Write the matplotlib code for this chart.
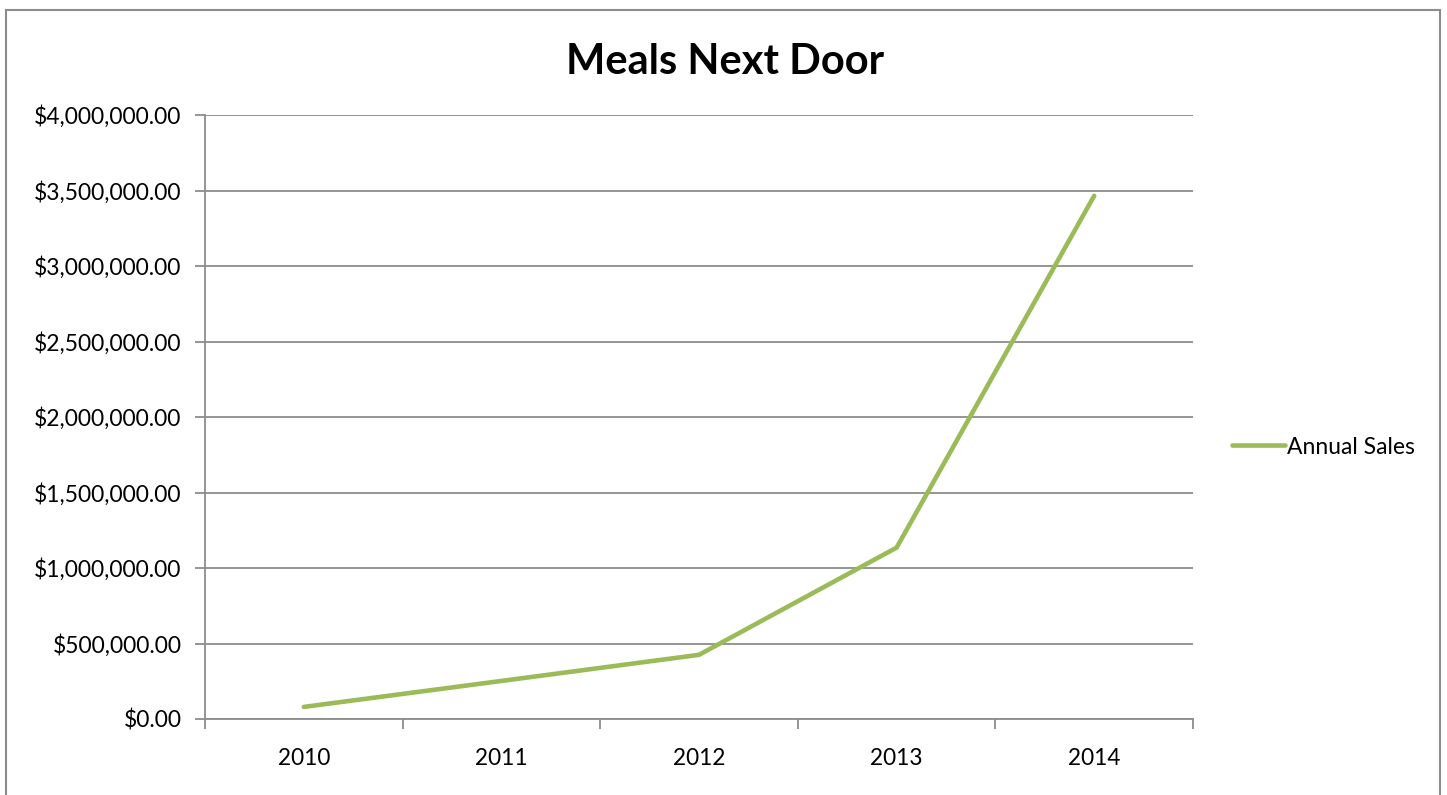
import matplotlib.pyplot as plt
from matplotlib.patches import Rectangle
from matplotlib.ticker import FuncFormatter, FixedLocator
import numpy as np

years = ['2010', '2011', '2012', '2013', '2014']
annual_sales = [80000, 252000, 425000, 1135000, 3465000]

plt.rcParams['font.family'] = ['Lato', 'DejaVu Sans']

fig = plt.figure(figsize=(14.47, 7.95), dpi=100)
ax = fig.add_axes([205 / 1447, 1 - 719 / 795, (1193 - 205) / 1447, (719 - 115) / 795])

# outer chart frame
fig.patches.append(Rectangle((6 / 1447, -0.05), (1440 - 6) / 1447, 1 - 10 / 795 + 0.05,
                             transform=fig.transFigure, fill=False,
                             edgecolor='#8c8c8c', linewidth=1.5))

x = np.arange(len(years))
ax.plot(x, annual_sales, color='#9BBB59', linewidth=3.3, solid_capstyle='round',
        solid_joinstyle='miter', label='Annual Sales', zorder=3)

ax.set_xlim(-0.5, len(years) - 0.5)
ax.set_ylim(0, 4000000)
ax.set_yticks(np.arange(0, 4000001, 500000))
ax.yaxis.set_major_formatter(FuncFormatter(lambda v, p: '${:,.2f}'.format(v)))
ax.grid(axis='y', color='#8c8c8c', linewidth=1.3)
ax.set_axisbelow(True)

# category ticks between labels, labels at centers
ax.xaxis.set_major_locator(FixedLocator(np.arange(-0.5, len(years), 1.0)))
ax.xaxis.set_major_formatter(FuncFormatter(lambda v, p: ''))
ax.xaxis.set_minor_locator(FixedLocator(x))
ax.set_xticklabels(years, minor=True)
ax.tick_params(axis='x', which='major', direction='out', length=7, width=1.3, color='#8c8c8c')
ax.tick_params(axis='x', which='minor', length=0, pad=21, labelsize=16.3)
ax.tick_params(axis='y', direction='out', length=7, width=1.3, color='#8c8c8c', labelsize=16.5, pad=10)

for s in ['top', 'right']:
    ax.spines[s].set_visible(False)
for s in ['left', 'bottom']:
    ax.spines[s].set_color('#8c8c8c')
    ax.spines[s].set_linewidth(1.3)

fig.text(725 / 1447, 1 - 62 / 795, 'Meals Next Door', ha='center', va='center',
         fontsize=30, fontweight='bold')

ax.legend(loc='center left', bbox_to_anchor=(1.019, 1 - (447 - 115) / 604), frameon=False,
          fontsize=16.5, handlelength=2.3, handletextpad=0.1)

plt.savefig('out.png', dpi=100)
